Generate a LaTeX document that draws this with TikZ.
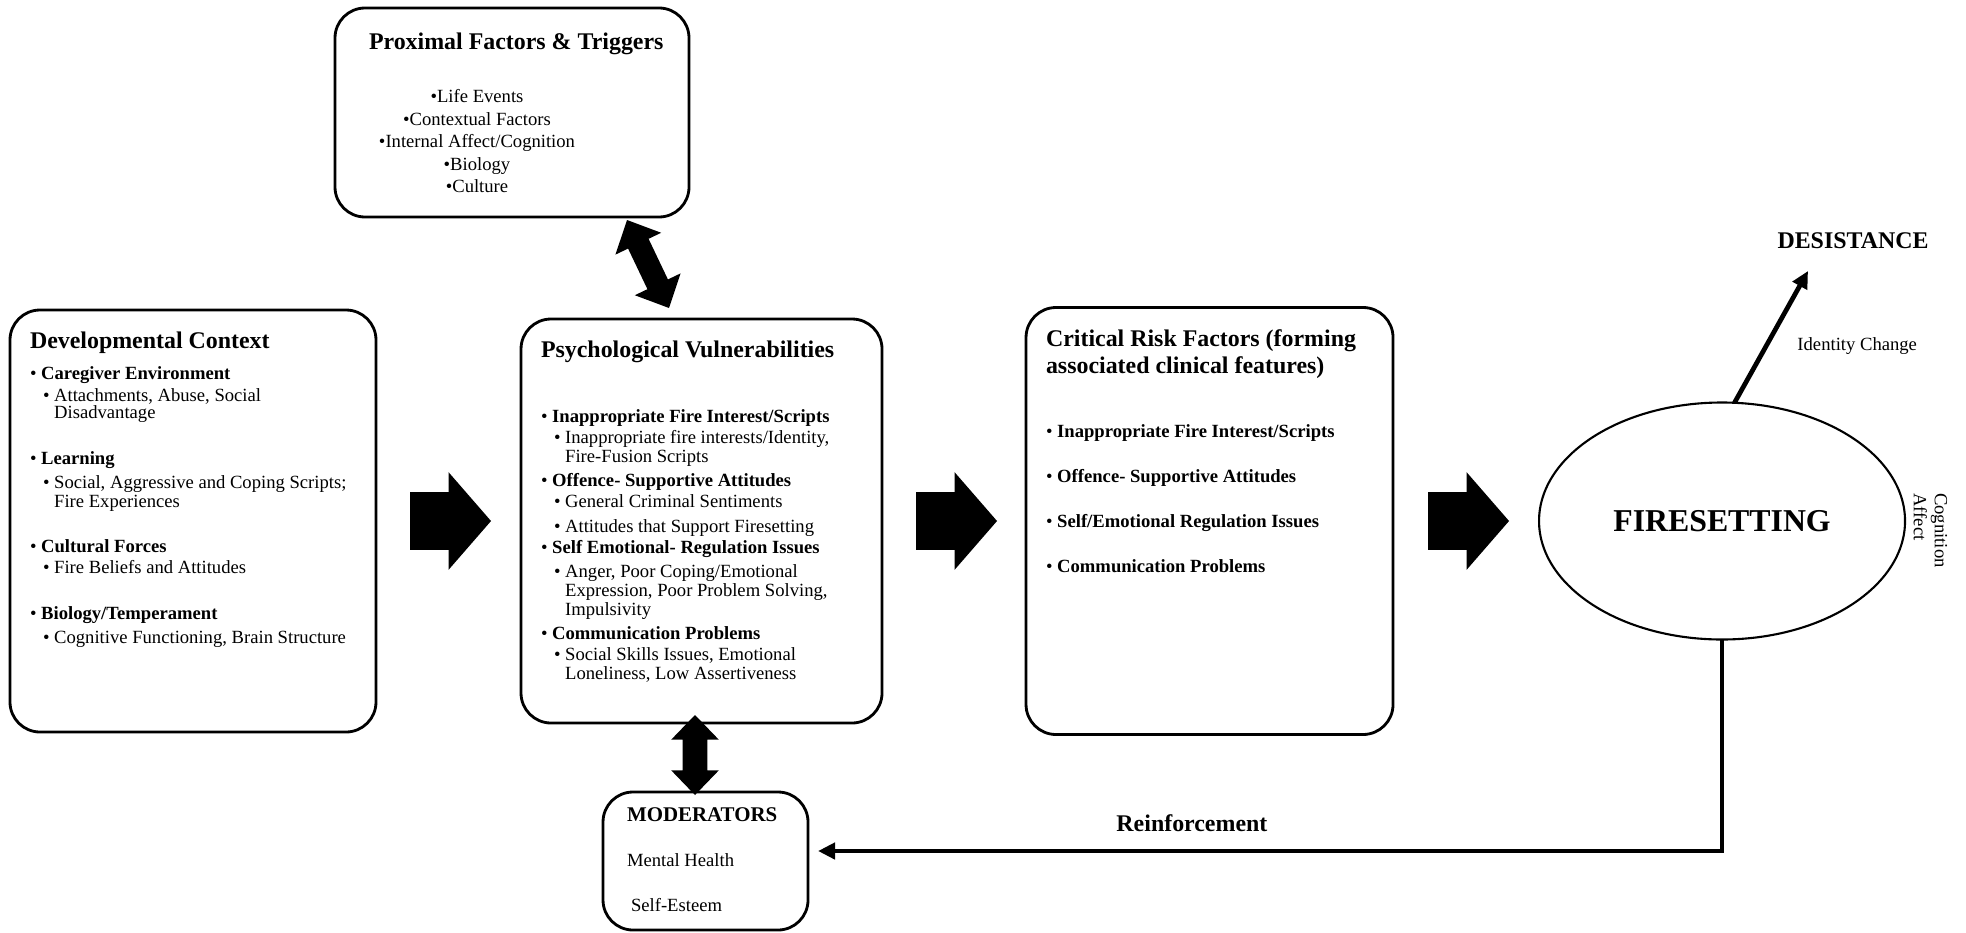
\documentclass[tikz,border=0pt]{standalone}
\usepackage{fontspec}
\setmainfont{Liberation Serif}
\usetikzlibrary{arrows.meta, positioning, shapes.geometric, shapes.arrows}

\newcommand{\paneltitle}{\fontsize{13.6}{15.3}\selectfont\bfseries}
\newcommand{\mainpt}[1]{\textbullet\ \textbf{#1}}
\newcommand{\subpt}[1]{\hspace*{0.26cm}\textbullet\ #1}
\newcommand{\subcont}[1]{\hspace*{0.26cm}\phantom{\textbullet\ }#1}

\begin{document}
\begin{tikzpicture}[
    panel/.style = {
      draw, line width=1.6pt, rounded corners=0.6cm, outer sep=0pt,
      inner xsep=0.4cm, inner ysep=0.44cm,
      font=\fontsize{10.6}{10.8}\selectfont
    },
    blockarrow/.style = {
      single arrow, fill=black, outer sep=0pt,
      inner xsep=0pt, inner ysep=0.57cm, minimum height=1.62cm,
      single arrow head extend=0.4cm, single arrow tip angle=98
    },
    linkarrow/.style = {
      double arrow, fill=black, outer sep=0pt, inner xsep=0pt,
      double arrow tip angle=88
    },
    flow/.style      = {-{Triangle[length=0.34cm, width=0.32cm]}, line width=2.7pt},
    smalltext/.style = {font=\fontsize{10.6}{12}\selectfont, inner sep=0pt}
  ]

    \useasboundingbox (0,0) rectangle (39.32,-18.64);

    \node[panel, anchor=north west] (dev) at (0.2,-6.2) {%
      \begin{minipage}[t][7.56cm][t]{6.52cm}
        {\paneltitle Developmental Context\par}
        \vspace{0.24cm}
        \mainpt{Caregiver Environment}\\[0.06cm]
        \subpt{Attachments, Abuse, Social}\\[-0.04cm]
        \subcont{Disadvantage}\\[0.54cm]
        \mainpt{Learning}\\[0.1cm]
        \subpt{Social, Aggressive and Coping Scripts;}\\
        \subcont{Fire Experiences}\\[0.52cm]
        \mainpt{Cultural Forces}\\[0.04cm]
        \subpt{Fire Beliefs and Attitudes}\\[0.54cm]
        \mainpt{Biology/Temperament}\\[0.1cm]
        \subpt{Cognitive Functioning, Brain Structure}
      \end{minipage}};

    \node[blockarrow, right=0.68cm of dev] (a1) {};

    \node[panel, right=0.6cm of a1] (psych) {%
      \begin{minipage}[t][7.2cm][t]{6.42cm}
        {\paneltitle Psychological Vulnerabilities\par}
        \vspace{0.92cm}
        \mainpt{Inappropriate Fire Interest/Scripts}\\[0.04cm]
        \subpt{Inappropriate fire interests/Identity,}\\
        \subcont{Fire-Fusion Scripts}\\[0.1cm]
        \mainpt{Offence- Supportive Attitudes}\\[0.04cm]
        \subpt{General Criminal Sentiments}\\[0.12cm]
        \subpt{Attitudes that Support Firesetting}\\[0.04cm]
        \mainpt{Self Emotional- Regulation Issues}\\[0.1cm]
        \subpt{Anger, Poor Coping/Emotional}\\
        \subcont{Expression, Poor Problem Solving,}\\
        \subcont{Impulsivity}\\[0.1cm]
        \mainpt{Communication Problems}\\[0.04cm]
        \subpt{Social Skills Issues, Emotional}\\
        \subcont{Loneliness, Low Assertiveness}
      \end{minipage}};

    \node[blockarrow, right=0.68cm of psych] (a2) {};

    \node[panel, right=0.58cm of a2] (crit) {%
      \begin{minipage}[t][7.66cm][t]{6.54cm}
        {\paneltitle Critical Risk Factors (forming\\associated clinical features)\par}
        \vspace{0.9cm}
        \mainpt{Inappropriate Fire Interest/Scripts}\\[0.52cm]
        \mainpt{Offence- Supportive Attitudes}\\[0.52cm]
        \mainpt{Self/Emotional Regulation Issues}\\[0.52cm]
        \mainpt{Communication Problems}
      \end{minipage}};

    \node[blockarrow, right=0.7cm of crit] (a3) {};

    \node[ellipse, draw, line width=1.2pt, inner sep=0pt, outer sep=0pt,
          minimum width=7.32cm, minimum height=4.74cm,
          right=0.6cm of a3,
          font=\fontsize{18.1}{20}\selectfont\bfseries] (fire) {FIRESETTING};

    \node[panel, anchor=north west, inner xsep=0.3cm, inner ysep=0.5cm] (prox) at (6.7,-0.16) {%
      \begin{minipage}[t][3.18cm][t]{6.48cm}
        {\paneltitle\hspace*{0.38cm}\mbox{Proximal Factors \& Triggers}\par}
        \vspace{0.68cm}
        \centering\rightskip=1.4cm plus 1fil
        \textbullet Life Events\\[0.07cm]
        \textbullet Contextual Factors\\[0.07cm]
        \textbullet Internal Affect/Cognition\\[0.07cm]
        \textbullet Biology\\[0.07cm]
        \textbullet Culture\par
      \end{minipage}};

    \node[panel, below=1.38cm of psych, xshift=0.08cm,
          inner xsep=0.48cm, inner ysep=0.32cm] (mod) {%
      \begin{minipage}[t][2.12cm][t]{3.14cm}
        {\fontsize{11.9}{13}\selectfont\bfseries MODERATORS\par}
        \vspace{0.52cm}
        Mental Health\\[0.52cm]
        \hspace*{0.08cm}Self-Esteem
      \end{minipage}};

    % two-way links
    \node[linkarrow, minimum height=1.95cm, inner ysep=0.22cm,
          double arrow head extend=0.28cm, rotate=-64.5] (link1) at (12.96,-5.28) {};
    \node[linkarrow, minimum height=1.6cm, inner ysep=0.24cm,
          double arrow head extend=0.23cm, rotate=90] (link2) at (13.9,-15.1) {};

    % desistance
    \node[font=\paneltitle, inner sep=0pt] (desist) at (37.06,-4.82) {DESISTANCE};
    \coordinate (desisttip) at (36.16,-5.42);

    \draw[flow]
      (fire.84) --
      node[pos=0.43, right=0.58cm, smalltext] {Identity Change}
      (desisttip);

    \node[smalltext, rotate=-90, align=left] (cogaff) at (38.61,-10.61)
      {Cognition\\Affect};

    % feedback loop
    \draw[flow, shorten >=0.2cm]
      (fire.south) |-
      node[pos=0.79, above=0.34cm, inner sep=0pt, font=\paneltitle] {Reinforcement}
      ([yshift=0.2cm]mod.east);

  \end{tikzpicture}
\end{document}
